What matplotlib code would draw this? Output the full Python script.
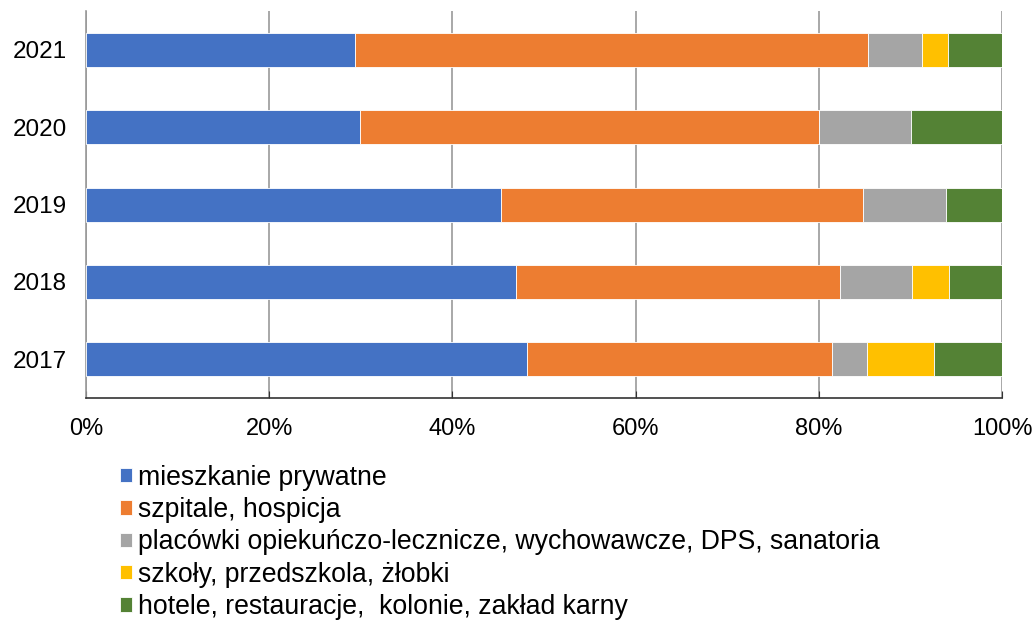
import numpy as np
import matplotlib.pyplot as plt

plt.rcParams['font.family'] = ['Liberation Sans', 'DejaVu Sans']

years = ['2017', '2018', '2019', '2020', '2021']
labels = [
    'mieszkanie prywatne',
    'szpitale, hospicja',
    'placówki opiekuńczo-lecznicze, wychowawcze, DPS, sanatoria',
    'szkoły, przedszkola, żłobki',
    'hotele, restauracje,  kolonie, zakład karny',
]
# shares in %, order 2017..2021
mieszkanie = [48.1, 46.9, 45.3, 29.9, 29.4]
szpitale = [33.3, 35.4, 39.5, 50.1, 55.9]
placowki = [3.8, 7.9, 9.1, 10.1, 5.9]
szkoly = [7.4, 4.0, 0.0, 0.0, 2.9]
hotele = [7.4, 5.8, 6.1, 9.9, 5.9]
colors = ['#4472c4', '#ed7d31', '#a5a5a5', '#ffc000', '#548235']

series = [mieszkanie, szpitale, placowki, szkoly, hotele]

fig = plt.figure(figsize=(10.35, 6.21), dpi=100)
ax = fig.add_axes([0.0831, 0.359, 0.8852, 0.623])

y = np.arange(len(years))
left = np.zeros(len(years))
handles = []
for vals, lab, col in zip(series, labels, colors):
    v = np.array(vals)
    b = ax.barh(y, v, left=left, height=0.44, color=col, edgecolor='white',
                linewidth=0.6, label=lab, zorder=3)
    handles.append(b)
    left += v

ax.set_xlim(0, 100)
ax.set_ylim(-0.5, 4.5)
ax.set_yticks(y)
ax.set_yticklabels(years, fontsize=17.5)
ax.set_xticks(np.arange(0, 101, 20))
ax.set_xticklabels([f'{t}%' for t in range(0, 101, 20)], fontsize=17)
ax.xaxis.grid(True, color='#999999', linewidth=1.2, zorder=0)
ax.tick_params(axis='y', length=0, pad=14)
ax.tick_params(axis='x', direction='in', length=5, color='#333333', pad=14)
for s in ['top', 'right']:
    ax.spines[s].set_visible(False)
ax.spines['left'].set_color('#999999')
ax.spines['left'].set_linewidth(1.2)
ax.spines['bottom'].set_color('#333333')
ax.spines['bottom'].set_linewidth(1.2)

fig.legend(handles=handles, loc='upper left', bbox_to_anchor=(0.116, 0.252),
           frameon=False, fontsize=19.2, handlelength=0.45, handleheight=0.45,
           handletextpad=0.23, labelspacing=0.24, borderaxespad=0, borderpad=0)

fig.savefig('out.png', dpi=100)
